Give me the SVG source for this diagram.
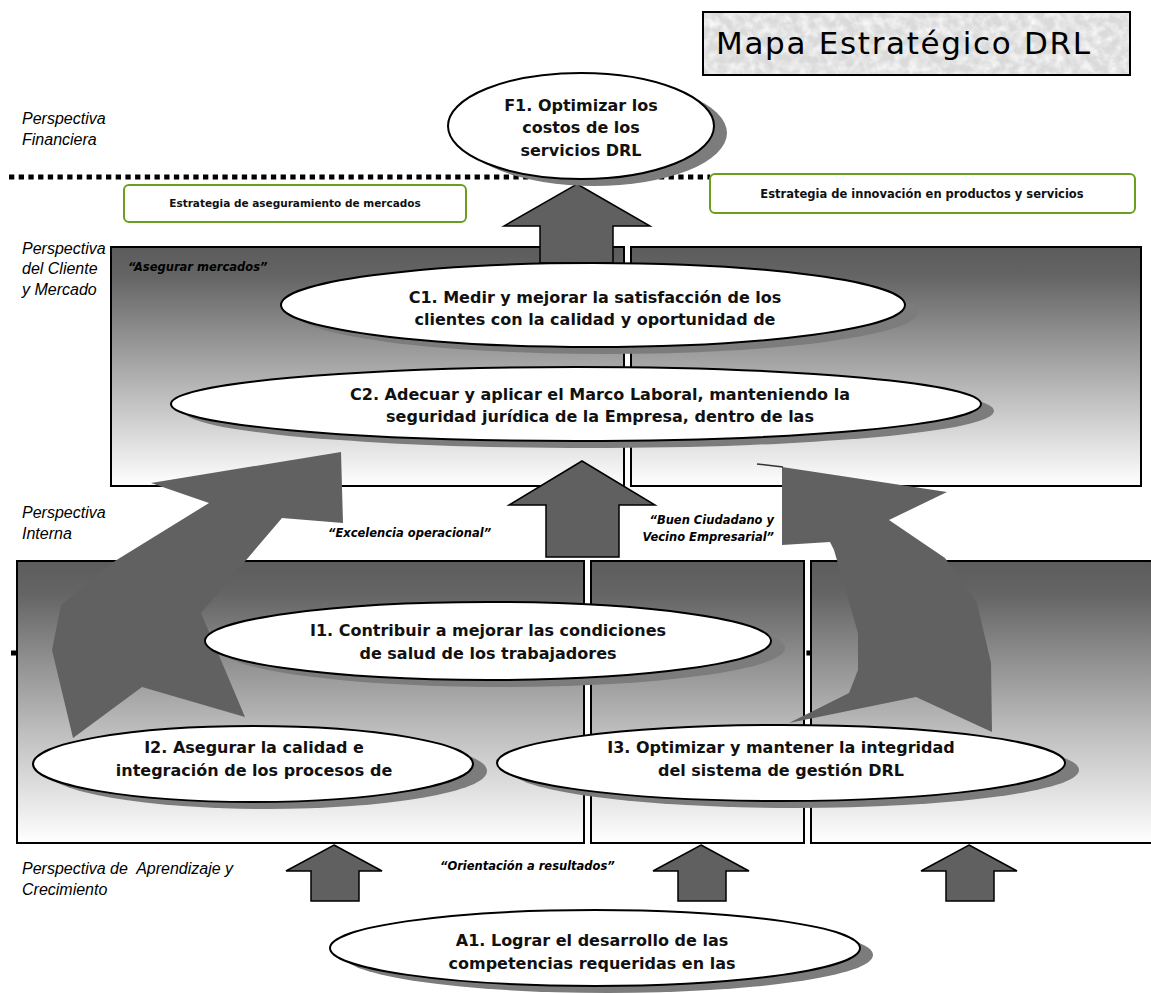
<svg xmlns="http://www.w3.org/2000/svg" width="1151" height="993" viewBox="0 0 1151 993">
<style>
.lbl{font-family:"Liberation Sans",Arial,sans-serif;font-style:italic;font-size:16px;fill:#000}
.quote{font-family:"DejaVu Sans",Tahoma,sans-serif;font-style:oblique;font-weight:bold;font-size:11.5px;fill:#000}
.node{font-family:"DejaVu Sans",Tahoma,sans-serif;font-weight:bold;font-size:16px;fill:#111;text-anchor:middle}
.strat{font-family:"DejaVu Sans",Tahoma,sans-serif;font-weight:bold;fill:#111;text-anchor:middle}
.ell{fill:#fff;stroke:#000;stroke-width:2}
.shd{fill:#7c7c7c}
.panel{stroke:#000;stroke-width:2}
.arr{fill:#606060;stroke:#000;stroke-width:1.5;stroke-linejoin:miter}
.curve{fill:#616161}
.gbox{fill:#fff;stroke:#6b9e1f;stroke-width:2}
.dots{stroke:#000;stroke-width:5;stroke-dasharray:5.3 4.4;fill:none}
</style>
<defs>
<linearGradient id="gC" x1="0" y1="0" x2="0" y2="1">
<stop offset="0" stop-color="#5c5c5c"/>
<stop offset="0.12" stop-color="#646464"/>
<stop offset="0.6" stop-color="#b9b9b9"/>
<stop offset="1" stop-color="#ffffff"/>
</linearGradient>
<linearGradient id="gI" x1="0" y1="0" x2="0" y2="1">
<stop offset="0" stop-color="#5c5c5c"/>
<stop offset="0.12" stop-color="#656565"/>
<stop offset="0.6" stop-color="#bdbdbd"/>
<stop offset="1" stop-color="#ffffff"/>
</linearGradient>
<filter id="noise" x="0" y="0" width="100%" height="100%">
<feTurbulence type="fractalNoise" baseFrequency="0.11" numOctaves="3" seed="7" result="n"/>
<feColorMatrix in="n" type="matrix" values="0 0 0 0 1  0 0 0 0 1  0 0 0 0 1  1.6 0 0 0 -0.55"/>
<feComposite in2="SourceGraphic" operator="in"/>
</filter>
</defs>
<rect width="1151" height="993" fill="#fff"/>

<!-- separators -->
<g id="separators">
<line class="dots" x1="9" y1="177" x2="710" y2="177"/>
<line class="dots" x1="11" y1="653" x2="812" y2="653"/>
</g>

<!-- title -->
<g id="title">
<rect x="703" y="12" width="427" height="63" fill="#dadada"/>
<rect x="703" y="12" width="427" height="63" fill="#000" filter="url(#noise)"/>
<rect x="703" y="12" width="427" height="63" fill="none" stroke="#000" stroke-width="2"/>
<text x="716" y="54" font-family="DejaVu Sans,Tahoma,sans-serif" font-size="31" textLength="374" lengthAdjust="spacing">Mapa Estratégico DRL</text>
</g>

<!-- perspective labels -->
<g id="labels">
<text class="lbl" x="22" y="124">Perspectiva</text>
<text class="lbl" x="22" y="145">Financiera</text>
<text class="lbl" x="22" y="254">Perspectiva</text>
<text class="lbl" x="22" y="274">del Cliente</text>
<text class="lbl" x="22" y="295">y Mercado</text>
<text class="lbl" x="22" y="518">Perspectiva</text>
<text class="lbl" x="22" y="539">Interna</text>
<text class="lbl" x="22" y="874" xml:space="preserve">Perspectiva de  Aprendizaje y</text>
<text class="lbl" x="22" y="895">Crecimiento</text>
</g>

<!-- strategy boxes -->
<g id="strategy-1">
<rect class="gbox" x="124" y="185" width="342" height="37" rx="5"/>
<text class="strat" x="295" y="207" font-size="10.5">Estrategia de aseguramiento de mercados</text>
</g>
<g id="strategy-2">
<rect class="gbox" x="710" y="174" width="425" height="39" rx="5"/>
<text class="strat" x="922" y="198" font-size="11.5">Estrategia de innovación en productos y servicios</text>
</g>

<!-- panels -->
<g id="panels-cliente">
<rect class="panel" x="111" y="247" width="513" height="239" fill="url(#gC)"/>
<rect class="panel" x="631" y="247" width="510" height="239" fill="url(#gC)"/>
</g>
<g id="panels-interna">
<rect class="panel" x="17" y="561" width="567" height="282" fill="url(#gI)"/>
<rect class="panel" x="591" y="561" width="213" height="282" fill="url(#gI)"/>
<rect class="panel" x="811" y="561" width="350" height="282" fill="url(#gI)"/>
</g>

<!-- connectors -->
<g id="connectors">
<polygon class="arr" points="577,184 650,226 613,226 613,263 540,263 540,226 504,226"/>
<polygon class="arr" points="582,461 655,505 619,505 619,557 546,557 546,505 509,505"/>
<polygon class="arr" points="334,845 382,871 359,871 359,901 311,901 311,871 286,871"/>
<polygon class="arr" points="701,845 749,871 726,871 726,901 678,901 678,871 653,871"/>
<polygon class="arr" points="969,845 1017,871 994,871 994,901 946,901 946,871 921,871"/>
<polygon class="curve" points="341,452 343,523 282,518 201,613 245,717 142,687 73,738 52,650 61,605 115,561 209,503 151,483"/>
<polygon class="curve" points="782,467 947,492 889,520 945,558 977,603 991,663 992,732 916,697 789,723 849,693 858,670 858,633 834,550 830,542 782,545"/>
<line x1="757" y1="464" x2="783" y2="467" stroke="#333" stroke-width="1.5"/>
</g>

<!-- quote labels -->
<g id="quotes">
<text class="quote" x="128" y="271">“Asegurar mercados”</text>
<text class="quote" x="328" y="537">“Excelencia operacional”</text>
<text class="quote" x="774" y="524" text-anchor="end">“Buen Ciudadano y</text>
<text class="quote" x="774" y="541" text-anchor="end">Vecino Empresarial”</text>
<text class="quote" x="440" y="870">“Orientación a resultados”</text>
</g>

<!-- nodes -->
<g id="F1">
<ellipse class="shd" cx="594" cy="133" rx="133" ry="53"/>
<ellipse class="ell" cx="581" cy="126" rx="133" ry="53"/>
<text class="node" x="581" y="111">F1. Optimizar los</text>
<text class="node" x="581" y="133">costos de los</text>
<text class="node" x="581" y="156">servicios DRL</text>
</g>
<g id="C1">
<ellipse class="shd" cx="606" cy="312" rx="312" ry="42"/>
<ellipse class="ell" cx="593" cy="305" rx="312" ry="42"/>
<text class="node" x="595" y="303">C1. Medir y mejorar la satisfacción de los</text>
<text class="node" x="595" y="325">clientes con la calidad y oportunidad de</text>
</g>
<g id="C2">
<ellipse class="shd" cx="589" cy="411" rx="405" ry="37"/>
<ellipse class="ell" cx="576" cy="404" rx="405" ry="37"/>
<text class="node" x="600" y="400">C2. Adecuar y aplicar el Marco Laboral, manteniendo la</text>
<text class="node" x="600" y="422">seguridad jurídica de la Empresa, dentro de las</text>
</g>
<g id="I1">
<ellipse class="shd" cx="502" cy="648" rx="283" ry="39"/>
<ellipse class="ell" cx="488" cy="641" rx="283" ry="39"/>
<text class="node" x="488" y="636">I1. Contribuir a mejorar las condiciones</text>
<text class="node" x="488" y="659">de salud de los trabajadores</text>
</g>
<g id="I2">
<ellipse class="shd" cx="267" cy="771" rx="220" ry="38"/>
<ellipse class="ell" cx="253" cy="764" rx="220" ry="38"/>
<text class="node" x="254" y="753">I2. Asegurar la calidad e</text>
<text class="node" x="254" y="776">integración de los procesos de</text>
</g>
<g id="I3">
<ellipse class="shd" cx="795" cy="770" rx="284" ry="38"/>
<ellipse class="ell" cx="781" cy="763" rx="284" ry="38"/>
<text class="node" x="781" y="753">I3. Optimizar y mantener la integridad</text>
<text class="node" x="781" y="776">del sistema de gestión DRL</text>
</g>
<g id="A1">
<ellipse class="shd" cx="608" cy="955" rx="265" ry="38"/>
<ellipse class="ell" cx="595" cy="948" rx="265" ry="38"/>
<text class="node" x="592" y="946">A1. Lograr el desarrollo de las</text>
<text class="node" x="592" y="969">competencias requeridas en las</text>
</g>
</svg>
